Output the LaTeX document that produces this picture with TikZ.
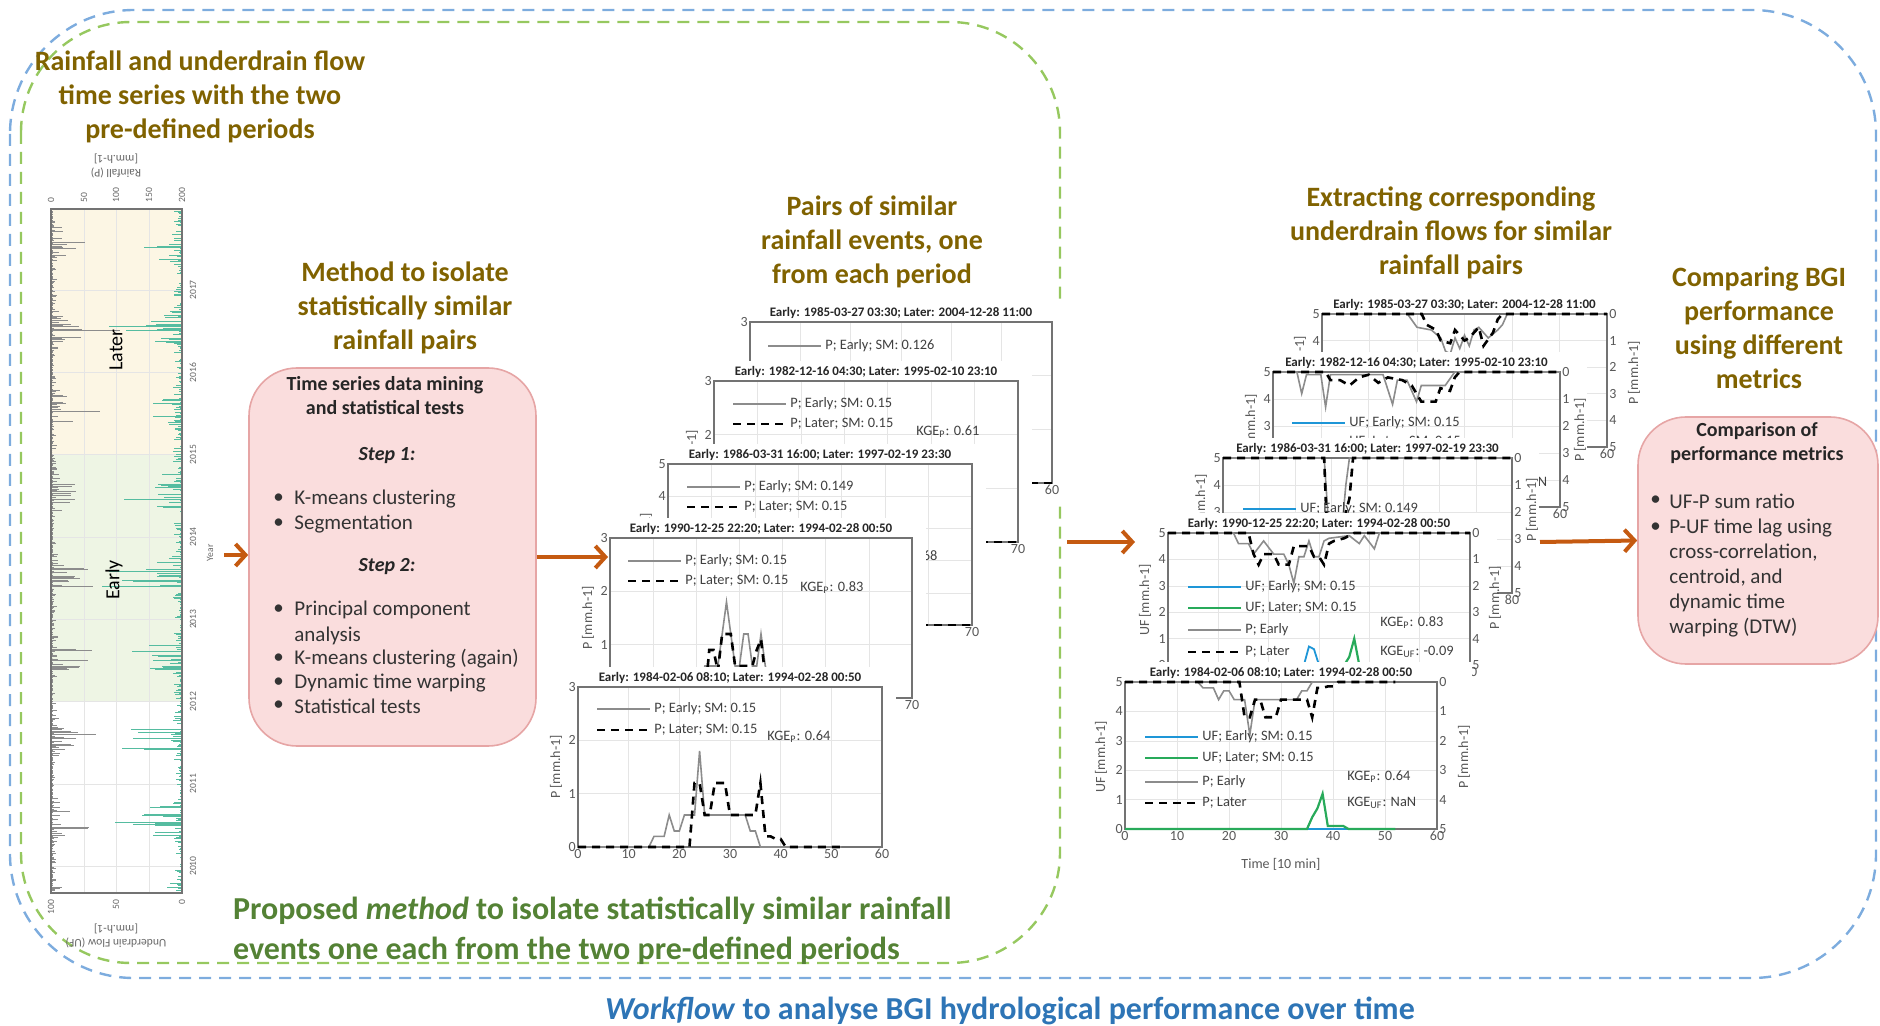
\documentclass[tikz,border=0pt]{standalone}
\usepackage{fontspec}
\setmainfont{Carlito}
\usetikzlibrary{arrows.meta}
\definecolor{headcol}{RGB}{128,98,0}
\definecolor{flowcol}{RGB}{197,90,17}
\definecolor{boxfill}{RGB}{250,221,221}
\definecolor{boxline}{RGB}{230,165,165}
\definecolor{outerblue}{RGB}{125,172,222}
\definecolor{innergreen}{RGB}{150,200,95}
\definecolor{capgreen}{RGB}{84,130,53}
\definecolor{capblue}{RGB}{46,117,182}
\definecolor{ufblue}{RGB}{30,150,215}
\definecolor{ufgreen}{RGB}{40,170,90}
\definecolor{flowteal}{RGB}{85,188,160}
\definecolor{latershade}{RGB}{252,246,228}
\definecolor{earlyshade}{RGB}{238,245,228}
\tikzset{
  >=Latex,
  head/.style={font=\fontsize{14}{17}\selectfont\bfseries, text=headcol, align=center},
  boxtxt/.style={font=\fontsize{10.5}{12}\selectfont, text=black!80, anchor=west, inner sep=0pt},
  boxhead/.style={font=\fontsize{10}{12}\selectfont\bfseries, text=black!85, inner sep=0pt, align=center},
  pinkbox/.style={draw=boxline, fill=boxfill, line width=0.8pt, rounded corners=24pt},
  flow/.style={draw=flowcol, line width=2pt, -{Straight Barb[length=5pt,width=11pt]}},
  ptitle/.style={font=\fontsize{6.5}{7}\selectfont\bfseries, text=black!85, inner sep=1.5pt},
  tick/.style={font=\fontsize{7}{8}\selectfont, text=black!65, inner sep=1pt},
  yrtick/.style={font=\fontsize{4.8}{5.8}\selectfont, text=black!60, inner sep=0.5pt},
  leg/.style={font=\fontsize{7.2}{8}\selectfont, text=black!75, anchor=west, inner sep=0pt},
  frame/.style={draw=black!55, line width=0.6pt},
  gridl/.style={draw=black!10, line width=0.3pt},
  pearly/.style={draw=black!45, line width=0.8pt},
  plater/.style={draw=black, line width=1.3pt, dash pattern=on 4pt off 3pt},
  ufe/.style={draw=ufblue, line width=0.9pt},
  ufl/.style={draw=ufgreen, line width=1.1pt},
  rainbar/.style={draw=black!45, line width=0.45pt},
  ufbar/.style={draw=flowteal, line width=0.45pt},
  captext/.style={font=\fontsize{16}{20}\selectfont\bfseries},
}
% one plot panel: name, left, top, width, height, x steps, y steps, title, right margin
\newcommand{\plotpanel}[9]{%
  \fill[white] ({#2-36},{#3-20}) rectangle ({#2+#4+#9},{#3+#5+22});
  \foreach \i in {1,...,#6} {\draw[gridl] ({#2+\i*#4/#6},#3) -- ++(0,#5);}
  \foreach \j in {1,...,#7} {\draw[gridl] (#2,{#3+\j*#5/#7}) -- ++(#4,0);}
  \draw[frame] (#2,#3) rectangle ++(#4,#5);
  \node[ptitle, anchor=south] (#1-title) at ({#2+#4/2},#3) {#8};
  \foreach \j in {0,...,#7} {\node[tick, anchor=east] (#1-y\j) at (#2,{#3+#5-\j*#5/#7}) {\j};}
  \node[tick, anchor=north] (#1-xend) at ({#2+#4},{#3+#5}) {\number\numexpr10*#6\relax};
}
% remaining time labels of a front panel: name, left, bottom, width
\newcommand{\timeticks}[4]{%
  \foreach \i in {0,...,5} {\node[tick, anchor=north] (#1-x\i) at ({#2+\i*#4/6},#3) {\number\numexpr10*\i\relax};}
}
% right P axis, 0 at top
\newcommand{\pticks}[4]{%
  \foreach \j in {0,...,5} {\node[tick, anchor=west] (#1-p\j) at (#2,{#3+\j*#4/5}) {\j};}
}
% legend entry: name, style, x, y, text
\newcommand{\legline}[5]{%
  \draw[#2] (#3,#4) -- ++(53,0);
  \node[leg] (#1) at ({#3+57},#4) {#5};
}
\def\rainEarly{(0,0) -- (14,0) -- (15,0.2) -- (17,0.2) -- (18,0.6) -- (19,0.3) -- (20,0.3) -- (21,0.6) -- (23,0.6) -- (24,1.8) -- (25,0.6) -- (33,0.6) -- (34,0.3) -- (35,0.3) -- (36,0) -- (52,0)}
\def\rainLater{(0,0) -- (22,0) -- (23,1.2) -- (24,1.2) -- (25,0.6) -- (26,0.6) -- (27,1.2) -- (29,1.2) -- (30,0.6) -- (35,0.6) -- (36,1.2) -- (37,0.2) -- (38,0.2) -- (39,0.15) -- (40,0.15) -- (41,0) -- (52,0)}

\begin{document}
\begin{tikzpicture}[x=0.5pt,y=-0.5pt]
\useasboundingbox (0,0) rectangle (1880,1026);
% workflow and method frames
\draw[outerblue, line width=1.2pt, dash pattern=on 6pt off 4pt, rounded corners=62pt] (10,10) rectangle (1876,978);
\draw[innergreen, line width=1.2pt, dash pattern=on 6pt off 4pt, rounded corners=55pt] (21,22) rectangle (1060,963);

% headings
\node[head] (h-series) at (200,97) {Rainfall and underdrain flow\\time series with the two\\pre-defined periods};
\node[head] (h-method) at (405,308) {Method to isolate\\statistically similar\\rainfall pairs};
\node[head] (h-pairs) at (872,242) {Pairs of similar\\rainfall events, one\\from each period};
\node[head] (h-flows) at (1451,233) {Extracting corresponding\\underdrain flows for similar\\rainfall pairs};
\node[head] (h-metrics) at (1759,328) {Comparing BGI\\performance\\using different\\metrics};

% rainfall / underdrain flow series, turned on its side
\fill[latershade] (51,209) rectangle (182,455);
\fill[earlyshade] (51,455) rectangle (182,702);
\foreach \xx in {84,116,149} {\draw[gridl] (\xx,209) -- (\xx,893);}
\foreach \yr [count=\k from 0] in {2017,2016,...,2010} {
  \pgfmathsetmacro\yy{290+82.3*\k}
  \draw[gridl] (51,\yy) -- (182,\yy);
  \node[yrtick, rotate=90] (yr\yr) at (193,\yy) {\yr};
}
\pgfmathsetseed{11}
\foreach \yy in {211,212.3,...,891} {
  \pgfmathsetmacro\s{0.1+0.9*(0.5+0.5*cos((\yy-245)/82.3*360))^4}
  \pgfmathsetmacro\lp{50*\s*rnd^3}
  \pgfmathsetmacro\lu{78*\s*rnd^3}
  \draw[rainbar] (52,\yy) -- ++(\lp,0);
  \draw[ufbar] (181,\yy) -- ++(-\lu,0);
}
\draw[rainbar] (52,330) -- (120,330); \draw[ufbar] (181,330) -- (126,330);
\draw[rainbar] (52,586) -- (93,586);  \draw[ufbar] (181,586) -- (102,586);
\draw[ufbar] (181,748) -- (122,748);  \draw[ufbar] (181,738) -- (133,738);
\draw[frame] (51,209) rectangle (182,893);
\node[font=\fontsize{10}{11}\selectfont, rotate=90] (later) at (116,350) {Later};
\node[font=\fontsize{10}{11}\selectfont, rotate=90] (early) at (114,580) {Early};
\foreach \v/\xx in {0/51,50/84,100/116,150/149,200/182} {\node[yrtick, rotate=90, anchor=west] (rt\v) at (\xx,204) {\v};}
\foreach \v/\xx in {100/51,50/116,0/182} {\node[yrtick, rotate=90, anchor=east] (ut\v) at (\xx,898) {\v};}
\node[yrtick, font=\fontsize{5.8}{6.8}\selectfont, rotate=180, align=center] (rlab) at (116,166) {Rainfall (P)\\{[}mm.h-1{]}};
\node[yrtick, font=\fontsize{5.8}{6.8}\selectfont, rotate=180, align=center] (ulab) at (116,936) {Underdrain Flow (UF)\\{[}mm.h-1{]}};
\node[yrtick, rotate=90] (yearlab) at (210,553) {Year};

% method box
\node[pinkbox, minimum width=143.5pt, minimum height=189pt] (method) at (392.5,557) {};
\node[boxhead] (m-title) at (385,396) {Time series data mining\\and statistical tests};
\node[boxhead, font=\fontsize{10}{12}\selectfont\bfseries\itshape] (m-step1) at (387,456) {Step 1:};
\node[boxhead, font=\fontsize{10}{12}\selectfont\bfseries\itshape] (m-step2) at (387,567) {Step 2:};
\foreach \b/\t/\yy [count=\k] in {1/K-means clustering/499, 1/Segmentation/524, 1/Principal component/610, 0/analysis/636, 1/K-means clustering (again)/659, 1/Dynamic time warping/683, 1/Statistical tests/706} {
  \node[boxtxt] (m-l\k) at (294,\yy) {\t};
  \ifnum\b=1 \node[boxtxt] (m-d\k) at (273,\yy) {\textbullet}; \fi
}

% metrics box
\node[pinkbox, minimum width=120pt, minimum height=123.5pt] (metrics) at (1758,540.5) {};
\node[boxhead] (c-title) at (1757,443) {Comparison of\\performance metrics};
\foreach \b/\t/\yy [count=\k] in {1/UF-P sum ratio/501, 1/P-UF time lag using/528, 0/{cross-correlation,}/553, 0/{centroid, and}/578, 0/dynamic time/603, 0/warping (DTW)/628} {
  \node[boxtxt] (c-l\k) at (1669,\yy) {\t};
  \ifnum\b=1 \node[boxtxt] (c-d\k) at (1650,\yy) {\textbullet}; \fi
}

% rainfall pairs, back to front
\plotpanel{ra}{750}{322}{302}{161}{6}{3}{Early: 1985-03-27 03:30; Later: 2004-12-28 11:00}{14}
\draw[plater] (750,483) -- (1052,483);
\legline{ra-l1}{pearly}{768}{346}{P; Early; SM: 0.126}

\plotpanel{rb}{714}{381}{304}{161}{7}{3}{Early: 1982-12-16 04:30; Later: 1995-02-10 23:10}{14}
\draw[plater] (714,542) -- (1018,542);
\legline{rb-l1}{pearly}{733}{404}{P; Early; SM: 0.15}
\legline{rb-l2}{plater}{733}{424}{P; Later; SM: 0.15}
\node[leg] (rb-kge) at (916,432) {KGE\textsubscript{P}: 0.61};
\node[tick, rotate=90] (rb-ylab) at (692,462) {P [mm.h-1]};

\plotpanel{rc}{668}{464}{304}{161}{7}{5}{Early: 1986-03-31 16:00; Later: 1997-02-19 23:30}{14}
\draw[plater] (668,625) -- (972,625);
\legline{rc-l1}{pearly}{687}{487}{P; Early; SM: 0.149}
\legline{rc-l2}{plater}{687}{507}{P; Later; SM: 0.15}
\node[leg] (rc-kge) at (874,557) {KGE\textsubscript{P}: 0.68};
\node[tick, rotate=90] (rc-ylab) at (646,545) {P [mm.h-1]};

\plotpanel{rd}{610}{538}{302}{160}{7}{3}{Early: 1990-12-25 22:20; Later: 1994-02-28 00:50}{14}
\begin{scope}[shift={(610,698)}, xscale=302/70, yscale=-160/3]
  \draw[pearly] (0,0) -- (20,0) -- (22,0.6) -- (25,0.6) -- (27,1.8) -- (28,1.2) -- (29,0.6) -- (30,0.6) -- (31,1.2) -- (32,1.2) -- (33,0.6) -- (34,0.6) -- (35,1.2) -- (36,0.6) -- (38,0) -- (60,0);
  \draw[plater] (0,0) -- (22,0) -- (23,0.9) -- (24,0.9) -- (25,0.5) -- (26,1.2) -- (28,1.2) -- (29,0.6) -- (33,0.6) -- (34,0.9) -- (35,1.1) -- (36,0.4) -- (37,0) -- (60,0);
\end{scope}
\legline{rd-l1}{pearly}{628}{561}{P; Early; SM: 0.15}
\legline{rd-l2}{plater}{628}{581}{P; Later; SM: 0.15}
\node[leg] (rd-kge) at (800,588) {KGE\textsubscript{P}: 0.83};
\node[tick, rotate=90] (rd-ylab) at (588,618) {P [mm.h-1]};

\plotpanel{re}{578}{687}{304}{160}{6}{3}{Early: 1984-02-06 08:10; Later: 1994-02-28 00:50}{14}
\timeticks{re}{578}{847}{304}
\begin{scope}[shift={(578,847)}, xscale=304/60, yscale=-160/3]
  \draw[pearly] \rainEarly;
  \draw[plater] \rainLater;
\end{scope}
\legline{re-l1}{pearly}{597}{709}{P; Early; SM: 0.15}
\legline{re-l2}{plater}{597}{730}{P; Later; SM: 0.15}
\node[leg] (re-kge) at (767,737) {KGE\textsubscript{P}: 0.64};
\node[tick, rotate=90] (re-ylab) at (556,767) {P [mm.h-1]};

% underdrain flows for the pairs, back to front
\plotpanel{fa}{1322}{314}{285}{133}{6}{5}{Early: 1985-03-27 03:30; Later: 2004-12-28 11:00}{30}
\pticks{fa}{1607}{314}{133}
\begin{scope}[shift={(1322,314)}, xscale=285/60, yscale=133/5]
  \draw[pearly] (0,0) -- (18,0) -- (20,0.5) -- (23,0.6) -- (25,0.9) -- (26,1.4) -- (27,1.5) -- (28,0.9) -- (29,1.3) -- (30,0.8) -- (31,1.2) -- (32,0.6) -- (33,0.5) -- (35,0.9) -- (37,0.6) -- (38,0.4) -- (39,0) -- (60,0);
  \draw[plater] (0,0) -- (21,0) -- (22,0.4) -- (24,0.6) -- (25,1.0) -- (27,1.1) -- (28,0.6) -- (30,1.0) -- (31,0.9) -- (33,0.5) -- (34,1.2) -- (36,0.7) -- (37,0.2) -- (38,0) -- (60,0);
\end{scope}
\node[tick, rotate=90] (fa-ylab) at (1300,372) {UF [mm.h-1]};
\node[tick, rotate=90] (fa-plab) at (1634,373) {P [mm.h-1]};

\plotpanel{fb}{1273}{372}{287}{135}{6}{5}{Early: 1982-12-16 04:30; Later: 1995-02-10 23:10}{27}
\pticks{fb}{1560}{372}{135}
\begin{scope}[shift={(1273,372)}, xscale=287/60, yscale=135/5]
  \draw[pearly] (0,0) -- (5,0) -- (6,0.8) -- (7,0.1) -- (10,0.1) -- (11,1.3) -- (12,0.1) -- (23,0.1) -- (25,1.2) -- (26,0.3) -- (28,0.3) -- (30,1.1) -- (31,0.5) -- (36,0.5) -- (38,0) -- (60,0);
  \draw[plater] (0,0) -- (11,0) -- (12,0.3) -- (14,0.3) -- (16,0.5) -- (18,0.2) -- (20,0.1) -- (22,0.4) -- (24,0.2) -- (27,0.3) -- (29,0.5) -- (31,1.1) -- (34,1.1) -- (35,0.6) -- (37,0.7) -- (38,0.2) -- (39,0) -- (60,0);
\end{scope}
\legline{fb-l1}{ufe}{1292}{423}{UF; Early; SM: 0.15}
\legline{fb-l2}{ufl}{1292}{442}{UF; Later; SM: 0.15}
\node[leg] (fb-kge) at (1478,483) {KGE\textsubscript{UF}: NaN};
\node[tick, rotate=90] (fb-ylab) at (1251,430) {UF [mm.h-1]};
\node[tick, rotate=90] (fb-plab) at (1580,430) {P [mm.h-1]};

\plotpanel{fc}{1223}{458}{289}{135}{8}{5}{Early: 1986-03-31 16:00; Later: 1997-02-19 23:30}{27}
\pticks{fc}{1512}{458}{135}
\begin{scope}[shift={(1223,458)}, xscale=289/80, yscale=135/5]
  \draw[pearly] (0,0) -- (28,0) -- (29,2) -- (30,5) -- (31,3) -- (32,4.5) -- (33,2.5) -- (34,1.0) -- (35,0) -- (80,0);
  \draw[plater] (0,0) -- (28,0) -- (29,3.5) -- (30,2.5) -- (31,5) -- (32,3) -- (33,4) -- (34,2) -- (35,1.5) -- (36,0) -- (80,0);
\end{scope}
\legline{fc-l1}{ufe}{1243}{509}{UF; Early; SM: 0.149}
\node[tick, rotate=90] (fc-ylab) at (1201,510) {UF [mm.h-1]};
\node[tick, rotate=90] (fc-plab) at (1532,510) {P [mm.h-1]};

\plotpanel{fd}{1168}{533}{302}{132}{6}{5}{Early: 1990-12-25 22:20; Later: 1994-02-28 00:50}{27}
\pticks{fd}{1470}{533}{132}
\begin{scope}[shift={(1168,665)}, xscale=302/60, yscale=-132/5]
  \draw[ufe] (0,0) -- (27,0) -- (28,0.7) -- (29,0.6) -- (30,0) -- (60,0);
  \draw[ufl] (0,0) -- (35,0) -- (36,0.3) -- (37,1.0) -- (38,0) -- (60,0);
\end{scope}
\begin{scope}[shift={(1168,533)}, xscale=302/60, yscale=132/5]
  \draw[pearly] (0,0) -- (13,0) -- (14,0.4) -- (16,0.4) -- (17,0.8) -- (19,0.3) -- (21,0.8) -- (23,0.8) -- (24,1.2) -- (25,1.9) -- (26,0.9) -- (27,0.9) -- (28,0.3) -- (29,0.9) -- (30,0.9) -- (31,0.3) -- (32,0.2) -- (36,0.1) -- (38,0.4) -- (39,0.1) -- (41,0.6) -- (42,0) -- (60,0);
  \draw[plater] (0,0) -- (16,0) -- (17,0.8) -- (18,1.2) -- (19,0.8) -- (21,0.8) -- (22,1.2) -- (24,1.2) -- (25,0.5) -- (28,0.5) -- (29,0.9) -- (30,0.9) -- (31,1.2) -- (32,0.4) -- (33,0.3) -- (35,0.2) -- (37,0) -- (60,0);
\end{scope}
\legline{fd-l1}{ufe}{1188}{587}{UF; Early; SM: 0.15}
\legline{fd-l2}{ufl}{1188}{608}{UF; Later; SM: 0.15}
\legline{fd-l3}{pearly}{1188}{630}{P; Early}
\legline{fd-l4}{plater}{1188}{652}{P; Later}
\node[leg] (fd-kge1) at (1380,623) {KGE\textsubscript{P}: 0.83};
\node[leg] (fd-kge2) at (1380,652) {KGE\textsubscript{UF}: -0.09};
\node[tick, rotate=90] (fd-ylab) at (1145,600) {UF [mm.h-1]};
\node[tick, rotate=90] (fd-plab) at (1495,598) {P [mm.h-1]};

\plotpanel{fe}{1125}{682}{312}{147}{6}{5}{Early: 1984-02-06 08:10; Later: 1994-02-28 00:50}{35}
\timeticks{fe}{1125}{829}{312}
\pticks{fe}{1437}{682}{147}
\begin{scope}[shift={(1125,829)}, xscale=312/60, yscale=-147/5]
  \draw[ufe] (0,0) -- (43,0);
  \draw[ufl] (0,0) -- (35,0) -- (36,0.4) -- (37,0.7) -- (38,1.2) -- (39,0.1) -- (42,0.1) -- (43,0) -- (52,0);
\end{scope}
\begin{scope}[shift={(1125,682)}, xscale=312/60, yscale=147/5]
  \draw[pearly] \rainEarly;
  \draw[plater] \rainLater;
\end{scope}
\legline{fe-l1}{ufe}{1145}{737}{UF; Early; SM: 0.15}
\legline{fe-l2}{ufl}{1145}{758}{UF; Later; SM: 0.15}
\legline{fe-l3}{pearly}{1145}{782}{P; Early}
\legline{fe-l4}{plater}{1145}{803}{P; Later}
\node[leg] (fe-kge1) at (1347,777) {KGE\textsubscript{P}: 0.64};
\node[leg] (fe-kge2) at (1347,803) {KGE\textsubscript{UF}: NaN};
\node[tick, rotate=90] (fe-ylab) at (1101,757) {UF [mm.h-1]};
\node[tick, rotate=90] (fe-plab) at (1464,757) {P [mm.h-1]};
\node[tick] (fe-xlab) at (1281,864) {Time [10 min]};

% workflow arrows
\coordinate (serout) at (224,555);
\coordinate (pairsin) at (608,557);
\coordinate (pairsout) at (1067,542);
\coordinate (flowsin) at (1135,542);
\coordinate (flowsout) at (1540,542);
\draw[flow] (serout) -- (method.west |- serout);
\draw[flow] (method.east) -- (pairsin);
\draw[flow] (pairsout) -- (flowsin);
\draw[flow] (flowsout) -- (metrics.west);

% captions
\node[captext, text=capgreen, anchor=west, align=left] (propcap) at (226,931) {Proposed \textit{method} to isolate statistically similar rainfall\\events one each from the two pre-defined periods};
\node[captext, text=capblue] (workcap) at (1010,1011) {\textit{Workflow} to analyse BGI hydrological performance over time};
\end{tikzpicture}
\end{document}
